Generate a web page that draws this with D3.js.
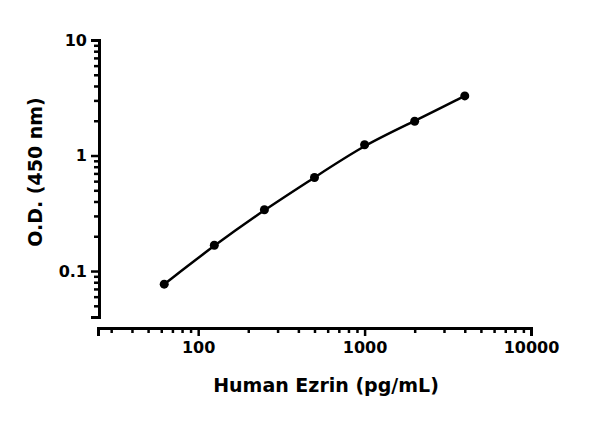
<!DOCTYPE html><html><head><script src="https://cdn.jsdelivr.net/npm/d3@7"></script>
<style>body{margin:0;background:#fff}text{font-family:"DejaVu Sans",sans-serif;font-weight:bold;fill:#000}</style></head><body>
<svg id="c" width="600" height="422"></svg>
<script>
const conc=[62.5,125,250,500,1000,2000,4000];
const od=[0.077,0.167,0.339,0.645,1.24,1.98,3.28];
const xTicks=[100,1000,10000];
const yTicks=[0.1,1,10];
const svg=d3.select("#c");
const x=d3.scaleLog().domain([25,10000]).range([98,531]);
const y=d3.scaleLog().domain([0.04,10]).range([317,40]);
const xMinor=[],yMinor=[];
[10,100,1000].forEach(d=>{for(let i=2;i<=9;i++){const v=d*i;if(v>=25&&v<10000)xMinor.push(v);}});
[0.01,0.1,1].forEach(d=>{for(let i=2;i<=9;i++){const v=d*i;if(v>=0.04&&v<10)yMinor.push(+v.toFixed(3));}});
const gx=svg.append("g").attr("transform","translate(0,328)");
gx.call(d3.axisBottom(x).tickValues(xTicks).tickFormat(d3.format("d")).tickSize(8).tickPadding(6));
gx.append("g").call(d3.axisBottom(x).tickValues(xMinor).tickFormat("").tickSize(5));
const gy=svg.append("g").attr("transform","translate(99,0)");
gy.call(d3.axisLeft(y).tickValues(yTicks).tickFormat(d=>String(d)).tickSize(8).tickPadding(4));
gy.append("g").call(d3.axisLeft(y).tickValues(yMinor).tickFormat("").tickSize(5));
svg.selectAll(".domain").attr("stroke-width",3).attr("stroke","#000");
svg.selectAll(".tick line").attr("stroke-width",2.5).attr("stroke","#000");
svg.selectAll(".tick text").style("font-size","16px");
gx.selectAll("g>g>.domain").remove();gy.selectAll("g>g>.domain").remove();
const line=d3.line().x((d,i)=>x(conc[i])).y(d=>y(d)).curve(d3.curveBasis);
svg.append("path").datum(od).attr("d",line).attr("fill","none").attr("stroke","#000").attr("stroke-width",2.5);
svg.selectAll("circle").data(od).join("circle").attr("cx",(d,i)=>x(conc[i])).attr("cy",d=>y(d)).attr("r",4.5).attr("fill","#000");
svg.append("text").attr("x",326).attr("y",392).attr("text-anchor","middle").style("font-size","19px").text("Human Ezrin (pg/mL)");
svg.append("text").attr("transform","translate(42,172) rotate(-90)").attr("text-anchor","middle").style("font-size","19px").text("O.D. (450 nm)");
</script></body></html>
